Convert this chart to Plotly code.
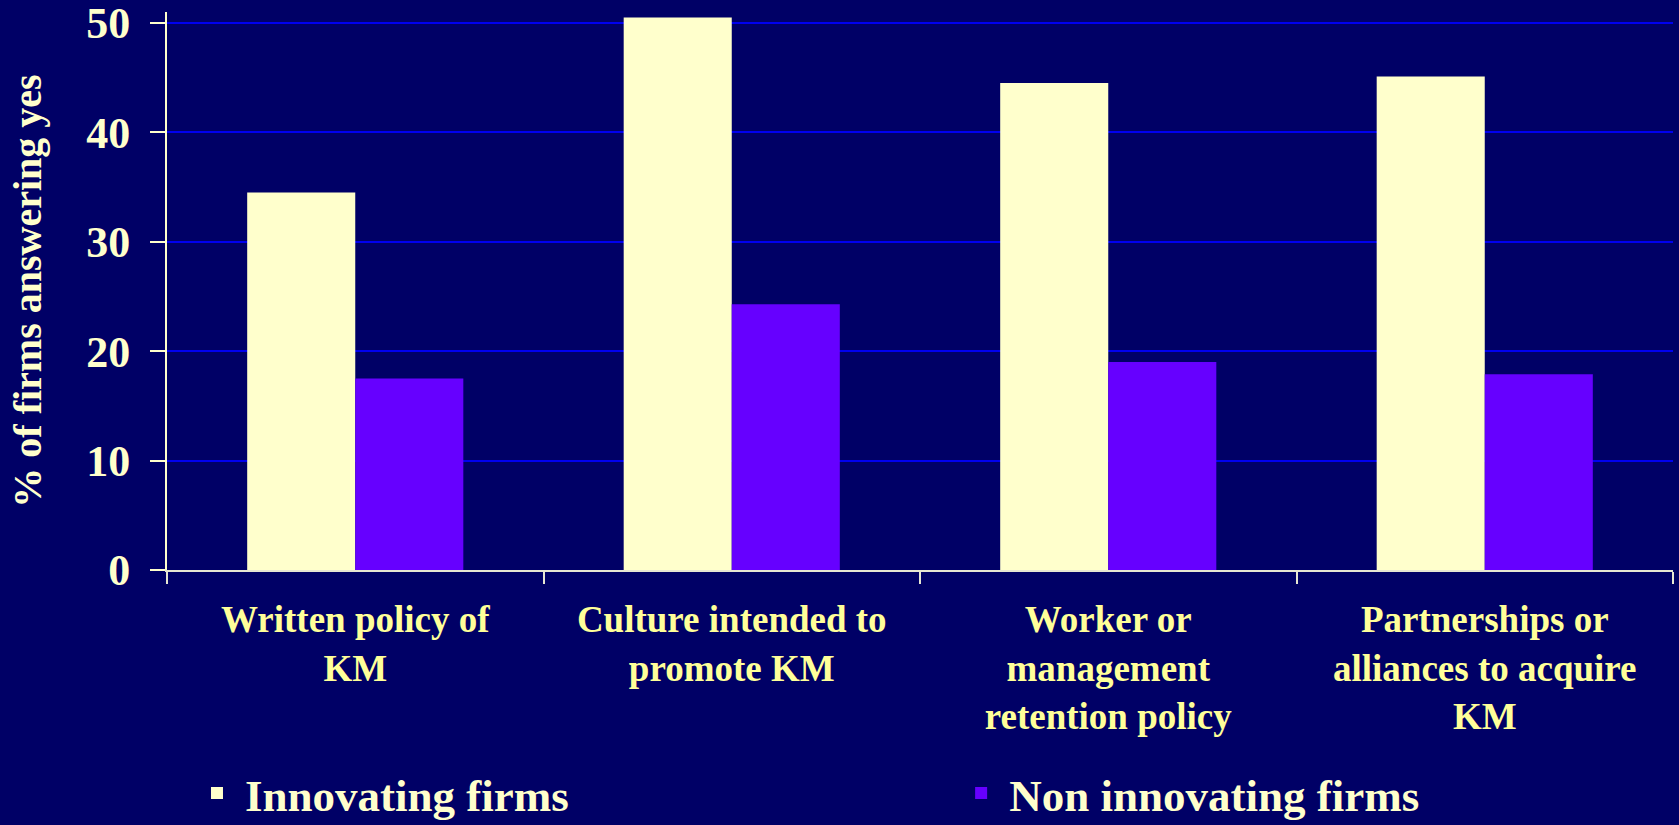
import plotly.graph_objects as go

categories = [
    "Written policy of<br>KM",
    "Culture intended to<br>promote KM",
    "Worker or<br>management<br>retention policy",
    "Partnerships or<br>alliances to acquire<br>KM",
]
innovating = [34.5, 50.5, 44.5, 45.1]
non_innovating = [17.5, 24.3, 19.0, 17.9]
y_ticks = [0, 10, 20, 30, 40, 50]

BG = "#000066"
CREAM = "#FFFFCC"
YELLOW = "#FFFF99"
FONT = "Liberation Serif"

fig = go.Figure()
fig.add_trace(go.Bar(name="Innovating firms", x=categories, y=innovating,
                     marker=dict(color="#FFFFCC", line=dict(width=0)),
                     legend="legend"))
fig.add_trace(go.Bar(name="Non innovating firms", x=categories, y=non_innovating,
                     marker=dict(color="#6600FF", line=dict(width=0)),
                     legend="legend2"))

legend_common = dict(
    orientation="h", xanchor="left",
    yref="paper", y=-0.40, yanchor="middle",
    itemwidth=46,
    font=dict(family=FONT, size=45, color=CREAM, weight="bold"),
    bgcolor="rgba(0,0,0,0)", itemclick=False, itemdoubleclick=False,
)

fig.update_layout(
    width=1679, height=825,
    paper_bgcolor=BG, plot_bgcolor=BG,
    barmode="group", bargap=0.426, bargroupgap=0,
    margin=dict(l=167, r=6, t=12, b=255, autoexpand=False),
    font=dict(family=FONT, color=CREAM),
    showlegend=True,
    legend=dict(x=0.0146, **legend_common),
    legend2=dict(x=0.522, **legend_common),
)
fig.update_xaxes(
    showgrid=False, showline=True, linecolor="#E6E6D2", linewidth=2,
    ticks="outside", tickson="boundaries", ticklen=12, tickcolor="#E6E6D2", tickwidth=2,
    tickfont=dict(family=FONT, size=37, color=YELLOW, weight="bold"),
    ticklabelstandoff=16, automargin=False,
)
fig.update_yaxes(
    range=[0, 51], tickvals=y_ticks, ticktext=[str(v) for v in y_ticks],
    showgrid=True, gridcolor="#0000EE", gridwidth=2,
    zeroline=False, automargin=False,
    showline=True, linecolor=CREAM, linewidth=2,
    ticks="outside", ticklen=15, tickcolor=CREAM, tickwidth=2,
    tickfont=dict(family=FONT, size=44, color=CREAM, weight="bold"),
    ticklabelstandoff=11, ticklabeloverflow="allow",
    title=dict(text="% of firms answering yes",
               font=dict(family=FONT, size=40, color=CREAM, weight="bold"),
               standoff=32),
)

fig.write_html(
    "out.html",
    config={"displayModeBar": False},
    post_script="document.body.style.margin='0';"
                "document.body.style.backgroundColor='#000066';",
)
